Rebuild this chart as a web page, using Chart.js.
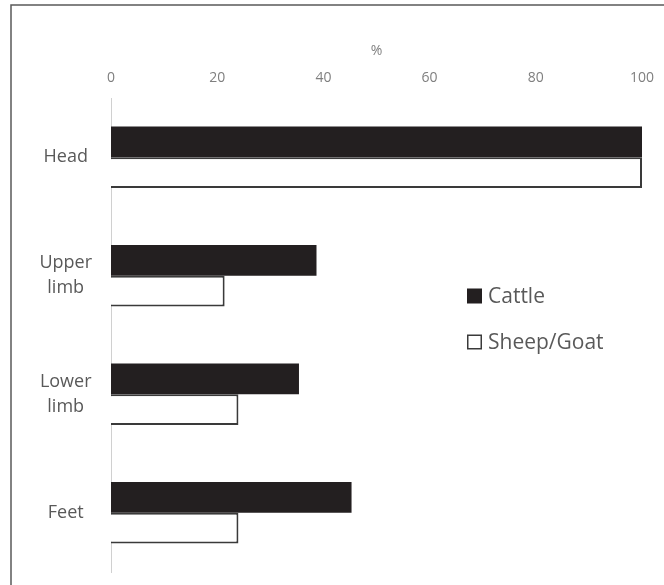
<!DOCTYPE html>
<html>
<head>
<meta charset="utf-8">
<script src="https://cdn.jsdelivr.net/npm/chart.js@4"></script>
<style>
html,body{margin:0;padding:0;background:#fff;}
#wrap{width:664px;height:585px;position:relative;}
</style>
</head>
<body>
<div id="wrap"><canvas id="c" width="664" height="585"></canvas></div>
<script>
const categories = [["Head"], ["Upper", "limb"], ["Lower", "limb"], ["Feet"]];
const seriesNames = ["Cattle", "Sheep/Goat"];
const cattle = [100, 38.7, 35.4, 45.3];
const sheepGoat = [100, 21.4, 24.0, 24.0];
const xTicks = [0, 20, 40, 60, 80, 100];
const axisTitle = "%";

const frame = {
  id: 'frame',
  beforeDraw(chart) {
    const ctx = chart.ctx;
    ctx.save();
    ctx.fillStyle = '#ffffff';
    ctx.fillRect(0, 0, chart.width, chart.height);
    ctx.strokeStyle = '#5a5a5a';
    ctx.lineWidth = 1.5;
    ctx.beginPath();
    ctx.moveTo(11, chart.height);
    ctx.lineTo(11, 5);
    ctx.lineTo(chart.width, 5);
    ctx.stroke();
    ctx.restore();
  }
};

const legendPlugin = {
  id: 'customLegend',
  afterDraw(chart) {
    const ctx = chart.ctx;
    ctx.save();
    const ys = [296, 342];
    chart.data.datasets.forEach((ds, i) => {
      const y = ys[i];
      if (i === 0) {
        ctx.fillStyle = ds.backgroundColor;
        ctx.fillRect(467, y - 7.5, 15, 15);
      } else {
        ctx.fillStyle = '#ffffff';
        ctx.fillRect(467, y - 7.5, 15, 15);
        ctx.strokeStyle = ds.borderColor;
        ctx.lineWidth = 1.5;
        ctx.strokeRect(467.75, y - 6.75, 13.5, 13.5);
      }
      ctx.fillStyle = '#595959';
      ctx.font = '21px "Open Sans"';
      ctx.textBaseline = 'middle';
      ctx.textAlign = 'left';
      ctx.fillText(ds.label, 488, y + 1);
    });
    ctx.restore();
  }
};

new Chart(document.getElementById('c'), {
  type: 'bar',
  data: {
    labels: categories,
    datasets: [
      {
        label: seriesNames[0],
        data: cattle,
        backgroundColor: '#231f20',
        borderWidth: 0,
        categoryPercentage: 0.52,
        barPercentage: 1.0
      },
      {
        label: seriesNames[1],
        data: sheepGoat,
        backgroundColor: '#ffffff',
        borderColor: '#3a3a3a',
        borderWidth: 2,
        borderSkipped: 'left',
        categoryPercentage: 0.52,
        barPercentage: 1.0
      }
    ]
  },
  options: {
    indexAxis: 'y',
    responsive: false,
    animation: false,
    devicePixelRatio: 1,
    layout: { padding: { left: 20, right: 22, top: 43, bottom: 13 } },
    plugins: {
      legend: { display: false },
      tooltip: { enabled: false }
    },
    scales: {
      x: {
        position: 'top',
        min: 0,
        max: 100,
        afterBuildTicks(scale) {
          scale.ticks = xTicks.map(v => ({ value: v }));
        },
        afterFit(scale) {
          scale.height = 55;
          scale.paddingLeft = 0;
          scale.paddingRight = 0;
        },
        grid: { display: false, drawTicks: false },
        border: { display: false },
        ticks: {
          color: '#7f7f7f',
          font: { family: '"Open Sans"', size: 14 },
          padding: 12,
          maxRotation: 0
        },
        title: {
          display: true,
          text: axisTitle,
          color: '#7f7f7f',
          font: { family: '"Open Sans"', size: 14 },
          padding: { top: 0, bottom: 0 }
        }
      },
      y: {
        afterFit(scale) {
          scale.width = 91;
          scale.paddingTop = 0;
          scale.paddingBottom = 0;
        },
        grid: { display: false, drawTicks: false },
        border: { display: true, color: '#d0d0d0', width: 1 },
        ticks: {
          color: '#595959',
          font: { family: '"Open Sans"', size: 18, lineHeight: 1.4 },
          padding: 19,
          crossAlign: 'center'
        }
      }
    }
  },
  plugins: [frame, legendPlugin]
});
</script>
</body>
</html>
